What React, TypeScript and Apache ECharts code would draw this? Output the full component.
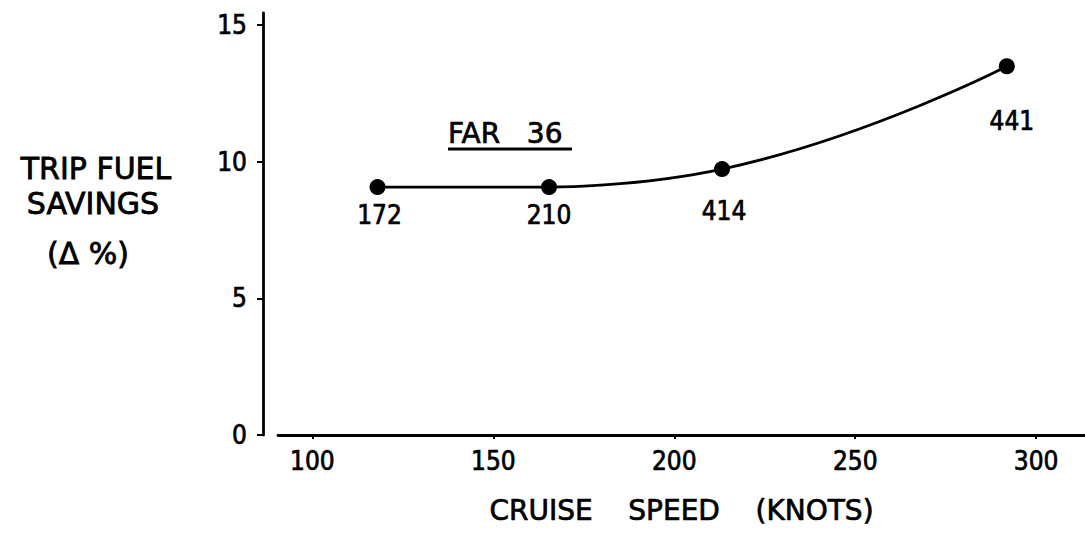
import React, { useEffect, useRef } from "react";
import * as echarts from "echarts";

// ---- data ----
const speedTicks = [100, 150, 200, 250, 300];
const savingsTicks = [0, 5, 10, 15];
const cruiseSpeeds = [118, 165.4, 213.2, 291.9];
const fuelSavings = [9.07, 9.07, 9.73, 13.49];
const pointLabels = ["172", "210", "414", "441"];
const yTitleLines = ["TRIP FUEL", "SAVINGS", "(Δ %)"];
const xTitle = "CRUISE    SPEED    (KNOTS)";
const noteText = "FAR   36";

// ---- label styling (not data) ----
const labelDistance = [7, 7, 21, 34];
const labelOffsetX = [2, 0, 2, 5];

const NUM_FONT = "'DejaVu Sans Condensed', 'DejaVu Sans', sans-serif";
const TXT_FONT = "'DejaVu Sans', sans-serif";
const INK = "#000";
const THICK = { textBorderColor: INK, textBorderWidth: 0.7 };

export default function App() {
  const ref = useRef<HTMLDivElement>(null);

  useEffect(() => {
    if (!ref.current) return;
    const chart = echarts.init(ref.current, null, { renderer: "svg" });
    const pts = cruiseSpeeds.map((x, i) => [x, fuelSavings[i]]);
    const yTitleX = [96, 93, 88];
    const yTitleY = [168, 203, 253];
    chart.setOption({
      animation: false,
      backgroundColor: "#fff",
      grid: { left: 278, right: 0, top: 13, bottom: 98, containLabel: false },
      xAxis: {
        type: "value",
        min: 90.5,
        max: 313.5,
        axisLine: { show: true, onZero: false, lineStyle: { color: INK, width: 2.8 } },
        axisTick: {
          show: true,
          customValues: speedTicks,
          length: 4,
          lineStyle: { color: INK, width: 2 },
        },
        axisLabel: {
          customValues: speedTicks,
          margin: 13,
          fontSize: 26,
          fontFamily: NUM_FONT,
          color: INK,
          ...THICK,
        },
        splitLine: { show: false },
        name: xTitle,
        nameLocation: "middle",
        nameGap: 61,
        nameTextStyle: { fontSize: 28, fontFamily: TXT_FONT, color: INK, ...THICK },
      },
      yAxis: {
        type: "value",
        min: 0,
        max: 15.44,
        offset: 15,
        axisLine: { show: true, onZero: false, lineStyle: { color: INK, width: 2.8 } },
        axisTick: {
          show: true,
          customValues: savingsTicks,
          length: 6,
          lineStyle: { color: INK, width: 2 },
        },
        axisLabel: {
          customValues: savingsTicks,
          margin: 16,
          fontSize: 26,
          fontFamily: NUM_FONT,
          color: INK,
          ...THICK,
        },
        splitLine: { show: false },
      },
      series: [
        {
          type: "line",
          smooth: false,
          symbol: "none",
          lineStyle: { color: INK, width: 2.8 },
          data: pts.slice(0, 2),
          z: 2,
        },
        {
          type: "line",
          smooth: 0.5,
          symbol: "none",
          lineStyle: { color: INK, width: 2.8 },
          data: pts.slice(1),
          z: 2,
        },
        {
          type: "scatter",
          symbol: "circle",
          symbolSize: 16,
          itemStyle: { color: INK, opacity: 1 },
          z: 3,
          label: {
            show: true,
            formatter: "{b}",
            position: "bottom",
            fontSize: 26,
            fontFamily: NUM_FONT,
            color: INK,
            opacity: 1,
            ...THICK,
          },
          data: pts.map((p, i) => ({
            name: pointLabels[i],
            value: p,
            label: { distance: labelDistance[i], offset: [labelOffsetX[i], 0] },
          })),
        },
      ],
      graphic: [
        ...yTitleLines.map((t, i) => ({
          type: "text",
          x: yTitleX[i],
          y: yTitleY[i],
          style: {
            text: t,
            fontSize: 30,
            fontFamily: TXT_FONT,
            fill: INK,
            stroke: INK,
            lineWidth: 0.8,
            textAlign: "center",
            textVerticalAlign: "middle",
          },
        })),
        {
          type: "text",
          x: 448,
          y: 133,
          style: {
            text: noteText,
            fontSize: 28,
            fontFamily: TXT_FONT,
            fill: INK,
            stroke: INK,
            lineWidth: 0.7,
            textAlign: "left",
            textVerticalAlign: "middle",
          },
        },
        {
          type: "line",
          shape: { x1: 448, y1: 149, x2: 572, y2: 149 },
          style: { stroke: INK, lineWidth: 2.8 },
        },
      ],
    });
    return () => chart.dispose();
  }, []);

  return (
    <div
      ref={ref}
      style={{ position: "fixed", left: 0, top: 0, width: 1085, height: 533, background: "#fff" }}
    />
  );
}
